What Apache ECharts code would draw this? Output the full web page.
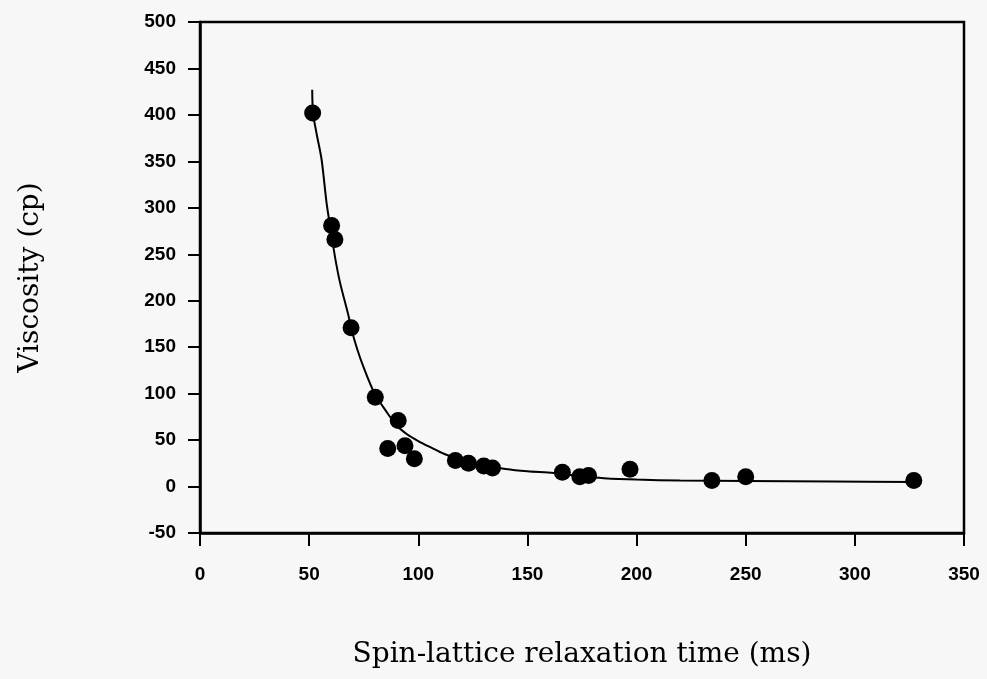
<!DOCTYPE html>
<html>
<head>
<meta charset="utf-8">
<script src="https://cdn.jsdelivr.net/npm/echarts@6/dist/echarts.min.js"></script>
<style>
html,body{margin:0;padding:0;background:#f7f7f7;}
#chart{width:987px;height:679px;}
</style>
</head>
<body>
<div id="chart"></div>
<script>
// Measured data points: spin-lattice relaxation time (ms), viscosity (cp)
var pointT = [51.6, 60.3, 61.8, 69.2, 80.3, 90.8, 86.0, 93.9, 98.2, 117, 123, 130, 134, 166, 174, 178, 197, 234.5, 250, 327];
var pointV = [402, 281, 266, 171, 96, 71, 41, 44, 30, 28, 25, 22, 20, 15.5, 10.5, 12, 18.5, 6.5, 10.5, 6.5];

// Fitted curve
var curveT = [51.4, 51.8, 53.4, 55.7, 58, 60.3, 62, 64.1, 68, 69.2, 72, 75, 80, 85, 90, 95, 100, 105, 112, 120, 130, 140, 150, 162, 175, 185, 200, 220, 250, 290, 327];
var curveV = [427, 402, 380, 352, 305, 270, 245, 220, 184, 171, 148, 128, 100, 82, 66, 56, 49, 43, 35, 29, 23, 19, 16.5, 14.5, 11, 9, 7.5, 6.5, 6, 5.5, 5];

var xTicks = [0, 50, 100, 150, 200, 250, 300, 350];
var yTicks = [-50, 0, 50, 100, 150, 200, 250, 300, 350, 400, 450, 500];

function zip(a, b) { return a.map(function (v, i) { return [v, b[i]]; }); }

var chart = echarts.init(document.getElementById('chart'), null, {renderer: 'canvas'});
var tickFont = {color: '#000', fontFamily: 'Liberation Sans, Arial, sans-serif', fontWeight: 'bold', fontSize: 19};
var nameFont = {color: '#000', fontFamily: 'DejaVu Serif, Liberation Serif, serif', fontSize: 28};
chart.setOption({
  backgroundColor: '#f7f7f7',
  animation: false,
  grid: {left: 200, right: 23, top: 22, bottom: 146, show: true, borderColor: '#000', borderWidth: 2.5, backgroundColor: 'transparent'},
  xAxis: {
    type: 'value', min: xTicks[0], max: xTicks[xTicks.length - 1], interval: 50,
    name: 'Spin-lattice relaxation time (ms)', nameLocation: 'middle', nameGap: 108,
    nameTextStyle: nameFont,
    axisLine: {show: true, onZero: false, lineStyle: {color: '#000', width: 2.5}},
    axisTick: {show: true, inside: false, length: 13, lineStyle: {color: '#000', width: 2}},
    axisLabel: Object.assign({margin: 32}, tickFont),
    splitLine: {show: false}
  },
  yAxis: {
    type: 'value', min: yTicks[0], max: yTicks[yTicks.length - 1], interval: 50,
    name: 'Viscosity (cp)', nameLocation: 'middle', nameGap: 155, nameRotate: 90,
    nameTextStyle: nameFont,
    axisLine: {show: true, onZero: false, lineStyle: {color: '#000', width: 2.5}},
    axisTick: {show: true, inside: false, length: 12, lineStyle: {color: '#000', width: 2}},
    axisLabel: Object.assign({margin: 24}, tickFont),
    splitLine: {show: false}
  },
  series: [
    {
      type: 'line', data: zip(curveT, curveV), smooth: 0.3, showSymbol: false, symbol: 'none',
      lineStyle: {color: '#000', width: 2}, z: 2
    },
    {
      type: 'scatter', data: zip(pointT, pointV), symbol: 'circle', symbolSize: 17,
      itemStyle: {color: '#000', opacity: 1}, z: 3
    }
  ]
});
</script>
</body>
</html>
